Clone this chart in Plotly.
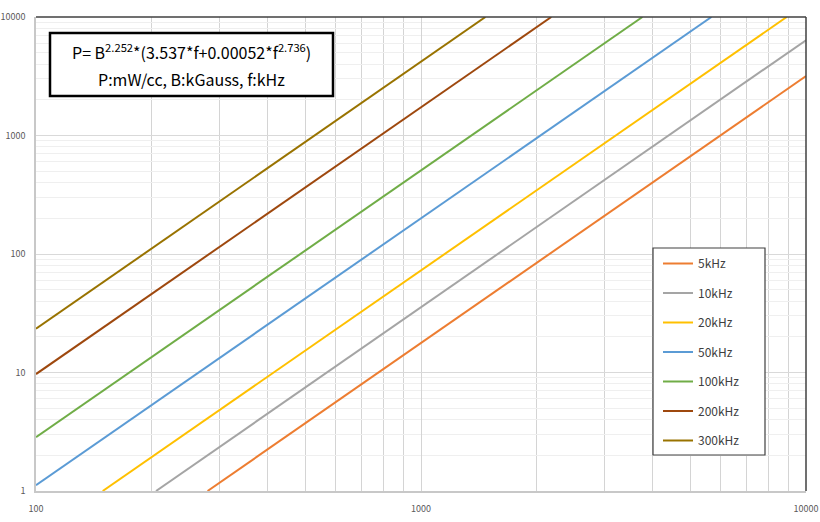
import plotly.graph_objects as go

# Data (B in Gauss on x, P in mW/cc on y); each line is straight in log-log space
series_names = ["5kHz", "10kHz", "20kHz", "50kHz", "100kHz", "200kHz", "300kHz"]
series_colors = ["#ED7D31", "#A5A5A5", "#FFC000", "#5B9BD5", "#70AD47", "#9E480E", "#997300"]
x_5k = [279, 10000]
y_5k = [1, 3170]
x_10k = [205, 10000]
y_10k = [1, 6370]
x_20k = [149, 8910]
y_20k = [1, 10000]
x_50k = [100, 5680]
y_50k = [1.12, 10000]
x_100k = [100, 3760]
y_100k = [2.85, 10000]
x_200k = [100, 2180]
y_200k = [9.7, 10000]
x_300k = [100, 1470]
y_300k = [23.4, 10000]

xs = [x_5k, x_10k, x_20k, x_50k, x_100k, x_200k, x_300k]
ys = [y_5k, y_10k, y_20k, y_50k, y_100k, y_200k, y_300k]

x_tickvals = [100, 1000, 10000]
x_ticktext = ["100", "1000", "10000"]
y_tickvals = [1, 10, 100, 1000, 10000]
y_ticktext = ["1", "10", "100", "1000", "10000"]
x_minor = [200, 300, 400, 500, 600, 700, 800, 900, 2000, 3000, 4000, 5000, 6000, 7000, 8000, 9000]
y_minor = [m * d for d in [1, 10, 100, 1000] for m in range(2, 10)]

formula_line1 = "P= B<sup>2.252</sup>*(3.537*f+0.00052*f<sup>2.736</sup>)"
formula_line2 = "P:mW/cc, B:kGauss, f:kHz"

FONT = "Noto Sans CJK KR, Noto Sans, sans-serif"

fig = go.Figure()
for i, (name, color) in enumerate(zip(series_names, series_colors)):
    fig.add_trace(go.Scatter(
        x=xs[i], y=ys[i], mode="lines", name=name,
        line=dict(color=color, width=2),
        legendgroup=name,
    ))

W, H = 820, 522
L, R, T, B = 36, 14, 17, 31
pw, ph = W - L - R, H - T - B

def px(x):
    return (x - L) / pw

def py(y):
    return (H - B - y) / ph

fig.update_layout(
    width=W, height=H,
    margin=dict(l=L, r=R, t=T, b=B, autoexpand=False),
    paper_bgcolor="white", plot_bgcolor="white",
    font=dict(family=FONT, color="#595959", size=10),
    showlegend=True,
    legend=dict(
        x=px(658), y=py(249), xanchor="left", yanchor="top",
        bgcolor="rgba(0,0,0,0)", borderwidth=0,
        font=dict(family=FONT, size=12, color="#404040"),
        traceorder="grouped", tracegroupgap=10.5,
        itemwidth=30,
    ),
    xaxis=dict(
        type="log", range=[2, 4], automargin=False,
        tickvals=x_tickvals, ticktext=x_ticktext,
        showgrid=True, gridcolor="#d4d4d4", gridwidth=1,
        minor=dict(tickvals=x_minor, showgrid=True, gridcolor="#d4d4d4", gridwidth=1),
        showline=True, linecolor="#c8c8c8", linewidth=1.5,
        zeroline=False, ticks="", ticklabelstandoff=8,
        ticklabeloverflow="allow",
        tickfont=dict(size=9, color="#595959"),
    ),
    yaxis=dict(
        type="log", range=[0, 4], automargin=False,
        tickvals=y_tickvals, ticktext=y_ticktext,
        showgrid=True, gridcolor="#d9d9d9", gridwidth=1,
        minor=dict(tickvals=y_minor, showgrid=True, gridcolor="#efefef", gridwidth=1),
        showline=True, linecolor="#c8c8c8", linewidth=1.5,
        zeroline=False, ticks="", ticklabelstandoff=7,
        ticklabeloverflow="allow",
        tickfont=dict(size=9, color="#595959"),
    ),
    shapes=[
        dict(type="line", xref="paper", yref="paper", x0=0, x1=1, y0=1, y1=1,
             line=dict(color="#404040", width=1.5)),
        dict(type="line", xref="paper", yref="paper", x0=1, x1=1, y0=0, y1=1,
             line=dict(color="#404040", width=1.5)),
        dict(type="rect", xref="paper", yref="paper",
             x0=px(50), x1=px(333), y0=py(96), y1=py(33),
             fillcolor="white", line=dict(color="black", width=2.5), layer="above"),
        dict(type="rect", xref="paper", yref="paper",
             x0=px(653), x1=px(765), y0=py(455), y1=py(248),
             fillcolor="white", line=dict(color="#404040", width=1.2), layer="above"),
    ],
    annotations=[
        dict(xref="paper", yref="paper", x=px(191.5), y=py(51), text=formula_line1,
             showarrow=False, xanchor="center", yanchor="middle",
             font=dict(family=FONT, size=16, color="#000000")),
        dict(xref="paper", yref="paper", x=px(191.5), y=py(79), text=formula_line2,
             showarrow=False, xanchor="center", yanchor="middle",
             font=dict(family=FONT, size=16, color="#000000")),
    ],
)

fig.write_html("out.html", config={"displayModeBar": False},
               post_script="document.body.style.margin='0';")
